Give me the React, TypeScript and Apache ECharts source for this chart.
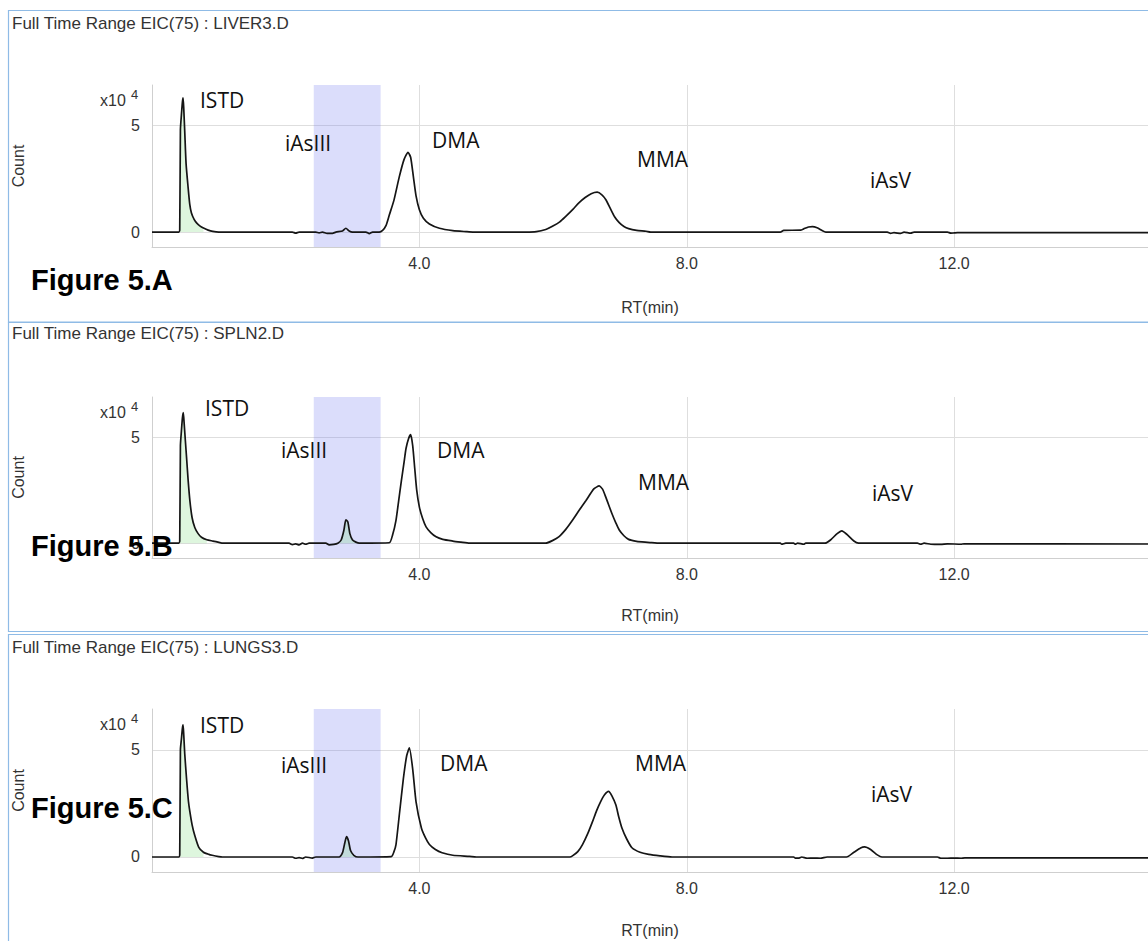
import React, { useEffect, useRef } from 'react';
import * as echarts from 'echarts';

const panelTitles = [
  'Full Time Range EIC(75) : LIVER3.D',
  'Full Time Range EIC(75) : SPLN2.D',
  'Full Time Range EIC(75) : LUNGS3.D',
];
const figureLabels = ['Figure 5.A', 'Figure 5.B', 'Figure 5.C'];
const peakNames = ['ISTD', 'iAsIII', 'DMA', 'MMA', 'iAsV'];
const xTickValues = [4, 8, 12];
const yTickValues = [0, 5];
const iAsIIIWindow = [2.42, 3.42];
const xRange = [0, 14.9];
const yRange = [-0.7, 6.9];

// RT (min), Count (x10^4)
const liverEIC: [number, number][] = [
  [0, 0], [0.4, 0], [0.415, 0.1], [0.425, 4.8], [0.44, 5.5], [0.455, 6.1], [0.465, 6.3], [0.475, 5.8], [0.49, 4.7], [0.51, 3.2], [0.54, 2.1], [0.565, 1.3], [0.59, 0.9], [0.63, 0.6], [0.67, 0.42], [0.72, 0.28], [0.77, 0.19], [0.84, 0.09], [0.91, 0.03], [1.0, 0],
  [2.1, 0], [2.15, -0.05], [2.2, 0], [2.45, 0], [2.5, -0.04], [2.55, 0], [2.62, -0.06], [2.7, -0.06], [2.75, 0], [2.85, 0.05], [2.9, 0.18], [2.95, 0.05], [3.0, 0], [3.2, 0], [3.25, -0.07], [3.3, 0], [3.4, 0],
  [3.45, 0.08], [3.5, 0.3], [3.55, 0.8], [3.62, 1.5], [3.7, 2.6], [3.77, 3.4], [3.83, 3.74], [3.87, 3.5], [3.91, 2.6], [3.95, 1.7], [4.0, 1.05], [4.06, 0.65], [4.15, 0.38], [4.3, 0.18], [4.5, 0.07], [4.7, 0.02], [4.8, 0],
  [5.6, 0], [5.75, 0.02], [5.89, 0.12], [5.99, 0.27], [6.1, 0.48], [6.19, 0.74], [6.3, 1.08], [6.39, 1.38], [6.48, 1.62], [6.57, 1.8], [6.66, 1.87], [6.73, 1.75], [6.79, 1.52], [6.85, 1.15], [6.92, 0.72], [6.99, 0.44], [7.06, 0.26], [7.13, 0.16], [7.25, 0.08], [7.39, 0.04], [7.46, 0],
  [9.4, 0], [9.45, 0.08], [9.7, 0.09], [9.75, 0.15], [9.82, 0.24], [9.88, 0.26], [9.95, 0.2], [10.03, 0.06], [10.08, 0],
  [11.0, 0], [11.05, -0.06], [11.1, -0.03], [11.2, -0.06], [11.25, 0], [11.35, -0.05], [11.4, 0], [11.9, 0], [11.95, -0.05], [12.0, -0.04], [12.05, -0.03], [14.9, -0.03],
];

const spleenEIC: [number, number][] = [
  [0, 0], [0.4, 0], [0.415, 0.1], [0.425, 4.6], [0.44, 5.3], [0.455, 5.9], [0.468, 6.16], [0.48, 5.7], [0.5, 4.8], [0.518, 4.0], [0.54, 3.0], [0.567, 2.0], [0.6, 1.2], [0.64, 0.74], [0.69, 0.45], [0.74, 0.28], [0.82, 0.16], [0.91, 0.1], [1.0, 0.04], [1.06, 0],
  [2.05, 0], [2.1, -0.07], [2.15, -0.03], [2.2, -0.08], [2.25, 0], [2.3, -0.05], [2.35, 0], [2.6, 0], [2.65, -0.08], [2.72, -0.06], [2.78, 0], [2.83, 0.15], [2.87, 0.6], [2.9, 1.1], [2.93, 1.0], [2.96, 0.45], [3.0, 0.15], [3.05, 0.05], [3.1, 0],
  [3.55, 0.02], [3.6, 0.4], [3.65, 1.08], [3.69, 2.0], [3.73, 2.93], [3.77, 3.8], [3.8, 4.47], [3.84, 4.95], [3.87, 5.12], [3.9, 4.6], [3.93, 3.55], [3.96, 2.5], [4.0, 1.7], [4.05, 1.15], [4.1, 0.77], [4.17, 0.5], [4.25, 0.3], [4.35, 0.18], [4.5, 0.1], [4.62, 0.05], [4.75, 0],
  [5.89, 0], [5.99, 0.12], [6.09, 0.31], [6.19, 0.65], [6.29, 1.08], [6.39, 1.55], [6.49, 2.0], [6.61, 2.56], [6.69, 2.7], [6.74, 2.55], [6.79, 2.16], [6.88, 1.4], [6.94, 0.95], [6.99, 0.62], [7.06, 0.35], [7.13, 0.18], [7.23, 0.1], [7.33, 0.06], [7.45, 0.03], [7.6, 0],
  [9.4, 0], [9.42, -0.05], [9.48, 0], [9.6, 0], [9.62, -0.05], [9.66, 0], [9.75, -0.05], [9.78, 0], [10.07, 0], [10.15, 0.15], [10.25, 0.45], [10.32, 0.58], [10.4, 0.4], [10.5, 0.1], [10.57, 0],
  [11.45, 0], [11.5, -0.05], [11.55, 0], [11.65, -0.05], [11.8, -0.06], [11.9, -0.03], [12.1, -0.05], [12.15, -0.03], [14.9, -0.04],
];

const lungsEIC: [number, number][] = [
  [0, 0], [0.4, 0], [0.415, 0.1], [0.425, 5.0], [0.44, 5.5], [0.455, 6.0], [0.465, 6.16], [0.475, 5.7], [0.49, 4.8], [0.518, 3.6], [0.545, 2.6], [0.567, 2.1], [0.6, 1.5], [0.64, 1.0], [0.7, 0.45], [0.77, 0.22], [0.85, 0.12], [0.9, 0.08], [1.0, 0.02], [1.05, 0],
  [2.1, 0], [2.15, -0.06], [2.2, -0.03], [2.25, -0.07], [2.3, 0], [2.4, -0.05], [2.45, 0], [2.8, 0], [2.85, 0.2], [2.88, 0.6], [2.91, 0.95], [2.94, 0.75], [2.97, 0.3], [3.02, 0.08], [3.08, 0],
  [3.58, 0.02], [3.62, 0.25], [3.65, 0.58], [3.7, 1.97], [3.76, 3.64], [3.81, 4.72], [3.85, 5.09], [3.9, 4.1], [3.95, 2.57], [4.03, 1.35], [4.09, 0.9], [4.15, 0.58], [4.24, 0.35], [4.34, 0.2], [4.5, 0.08], [4.75, 0.03], [4.85, 0],
  [6.25, 0], [6.29, 0.05], [6.37, 0.25], [6.44, 0.58], [6.52, 1.1], [6.59, 1.65], [6.65, 2.15], [6.71, 2.57], [6.77, 2.9], [6.83, 3.06], [6.88, 2.85], [6.94, 2.42], [6.98, 1.9], [7.03, 1.35], [7.1, 0.85], [7.18, 0.43], [7.3, 0.22], [7.43, 0.12], [7.6, 0.05], [7.78, 0],
  [9.6, 0], [9.62, -0.05], [9.68, -0.05], [9.72, 0], [9.8, -0.06], [9.9, -0.05], [10.0, -0.06], [10.1, 0], [10.39, 0], [10.5, 0.22], [10.6, 0.42], [10.66, 0.47], [10.75, 0.35], [10.85, 0.1], [10.92, 0],
  [11.75, 0], [11.8, -0.06], [11.9, -0.06], [12.0, -0.05], [12.1, -0.06], [12.16, -0.04], [14.9, -0.04],
];

// integrated (green) windows per trace, in minutes
const liverFills = [[0.4, 0.8]];
const spleenFills = [[0.4, 0.82], [2.78, 3.1]];
const lungsFills = [[0.4, 0.8], [2.8, 3.08]];

const segment = (trace: [number, number][], a: number, b: number) =>
  trace.filter(([t]) => t >= a && t <= b);

const AXIS_FONT = '"Liberation Sans", Arial, sans-serif';
const PEAK_FONT = '"Open Sans", "Noto Sans", sans-serif';

export default function App() {
  const ref = useRef<HTMLDivElement>(null);

  useEffect(() => {
    if (!ref.current) return;
    const chart = echarts.init(ref.current, undefined, { renderer: 'svg' });

    const panels = [
      { trace: liverEIC, fills: liverFills, boxTop: 10.5, boxH: 311.5, gridTop: 85, gridH: 162, nameGap: 52, titleY: 23, figY: 280,
        peakPos: [[200, 100], [285, 143], [432, 140], [637, 159], [870, 180]] },
      { trace: spleenEIC, fills: spleenFills, boxTop: 322.5, boxH: 309, gridTop: 397, gridH: 161, nameGap: 49, titleY: 333, figY: 546,
        peakPos: [[205, 408], [281, 450], [437, 450], [638, 482], [872, 493]] },
      { trace: lungsEIC, fills: lungsFills, boxTop: 634.5, boxH: 400, gridTop: 709, gridH: 163, nameGap: 50, titleY: 647, figY: 808,
        peakPos: [[200, 725], [281, 765], [440, 763], [635, 763], [871, 794]] },
    ];

    const grid: any[] = [];
    const xAxis: any[] = [];
    const yAxis: any[] = [];
    const series: any[] = [];
    const graphic: any[] = [];

    panels.forEach((p, i) => {
      grid.push({ left: 152, top: p.gridTop, width: 998, height: p.gridH, containLabel: false });
      xAxis.push({
        type: 'value', gridIndex: i, min: xRange[0], max: xRange[1],
        name: 'RT(min)', nameLocation: 'middle', nameGap: p.nameGap,
        nameTextStyle: { color: '#333', fontSize: 16, fontFamily: AXIS_FONT },
        axisLine: { show: true, onZero: false, lineStyle: { color: '#cfcfcf', width: 1 } },
        axisTick: { show: false, customValues: xTickValues },
        axisLabel: { customValues: xTickValues, formatter: (v: number) => v.toFixed(1), color: '#333', fontSize: 16, fontFamily: AXIS_FONT, margin: 8 },
        splitLine: { show: true, lineStyle: { color: '#dedede', width: 1 } },
      });
      yAxis.push({
        type: 'value', gridIndex: i, min: yRange[0], max: yRange[1],
        name: 'Count', nameLocation: 'middle', nameGap: 126, nameRotate: 90,
        nameTextStyle: { color: '#333', fontSize: 16, fontFamily: AXIS_FONT },
        axisLine: { show: true, onZero: false, lineStyle: { color: '#cfcfcf', width: 1 } },
        axisTick: { show: false, customValues: yTickValues },
        axisLabel: { customValues: yTickValues, color: '#333', fontSize: 16, fontFamily: AXIS_FONT, margin: 12 },
        splitLine: { show: true, lineStyle: { color: '#dedede', width: 1 } },
      });
      p.fills.forEach(([a, b]) => {
        series.push({
          type: 'line', xAxisIndex: i, yAxisIndex: i, data: segment(p.trace, a, b),
          showSymbol: false, silent: true, z: 3, smooth: 0.2,
          lineStyle: { width: 0, opacity: 0 },
          areaStyle: { color: 'rgba(120,220,120,0.35)', origin: 0 },
        });
      });
      series.push({
        type: 'line', name: panelTitles[i], xAxisIndex: i, yAxisIndex: i, data: p.trace,
        showSymbol: false, z: 4, smooth: 0.2,
        lineStyle: { color: '#151515', width: 1.7 },
        markArea: {
          silent: true,
          itemStyle: { color: 'rgba(110,120,240,0.25)' },
          data: [[{ xAxis: iAsIIIWindow[0] }, { xAxis: iAsIIIWindow[1] }]],
        },
      });

      // panel frame
      graphic.push({
        type: 'rect', silent: true, z: 0,
        shape: { x: 8.5, y: p.boxTop, width: 1200, height: p.boxH },
        style: { fill: 'none', stroke: '#8fbbe6', lineWidth: 1.2 },
      });
      graphic.push({
        type: 'text', silent: true, x: 12, y: p.titleY,
        style: { text: panelTitles[i], fill: '#333', font: `17px ${AXIS_FONT}`, verticalAlign: 'middle' },
      });
      graphic.push({
        type: 'text', silent: true, x: 100, y: p.gridTop + 15,
        style: { text: 'x10', fill: '#333', font: `16px ${AXIS_FONT}`, verticalAlign: 'middle' },
      });
      graphic.push({
        type: 'text', silent: true, x: 131, y: p.gridTop + 9,
        style: { text: '4', fill: '#333', font: `13px ${AXIS_FONT}`, verticalAlign: 'middle' },
      });
      p.peakPos.forEach(([x, y], k) => {
        graphic.push({
          type: 'text', silent: true, x, y, z: 10,
          style: { text: peakNames[k], fill: '#111', font: `21px ${PEAK_FONT}`, verticalAlign: 'middle' },
        });
      });
      graphic.push({
        type: 'text', silent: true, x: 31, y: p.figY, z: 20,
        style: { text: figureLabels[i], fill: '#000', font: `bold 29px ${AXIS_FONT}`, verticalAlign: 'middle' },
      });
    });
    // second line of the double separator above the third panel
    graphic.push({
      type: 'line', silent: true, shape: { x1: 8.5, y1: 631.5, x2: 1148, y2: 631.5 },
      style: { stroke: '#8fbbe6', lineWidth: 1.2 },
    });

    chart.setOption({
      animation: false,
      backgroundColor: '#fff',
      grid, xAxis, yAxis, series, graphic,
    });

    return () => chart.dispose();
  }, []);

  return (
    <div
      ref={ref}
      style={{ position: 'absolute', left: 0, top: 0, width: 1148, height: 941, background: '#fff' }}
    />
  );
}
